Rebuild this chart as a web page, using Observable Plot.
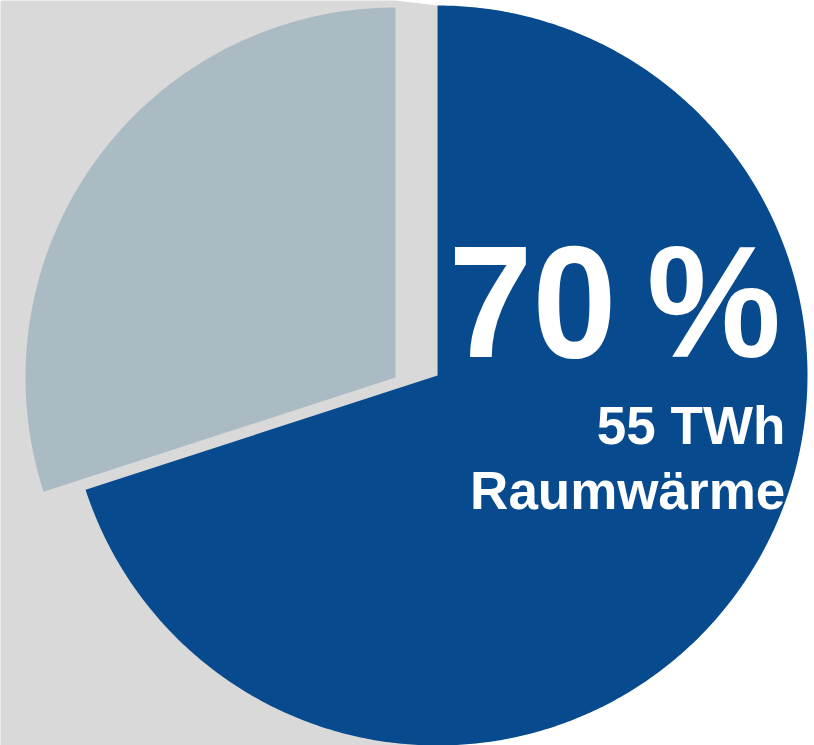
<!DOCTYPE html>
<html><head><meta charset="utf-8">
<script src="https://cdn.jsdelivr.net/npm/d3@7"></script>
<script src="https://cdn.jsdelivr.net/npm/@observablehq/plot@0.6"></script>
<style>
html,body{margin:0;padding:0;background:#fff;}
#chart svg{display:block;}
#chart g.pct-label{transform-box:fill-box;transform-origin:100% 100%;transform:scaleX(0.95);}
</style>
</head><body><div id="chart"></div>
<script>
// ---- data ----
const categories = ["Raumwärme", "Übrige Anwendungen"];
const shares = [70, 30];          // percent
const energyTWh = [55, null];     // TWh (only the highlighted slice is labelled)

// ---- styling / layout constants ----
const COLORS = ["#074B8E", "#ABBBC3"];
const BG_GREY = "#D9D9D9";
const W = 814, H = 745, R_PX = 370;
const X_DOMAIN = [-437 / R_PX, (W - 437) / R_PX];
const Y_DOMAIN = [-(H - 375) / R_PX, 375 / R_PX];
const EXPLODE = [[0, 0], [-42 / R_PX, -2 / R_PX]]; // slice offsets in radius units

// ---- build pie polygons from the data ----
const arcs = d3.pie().sort(null)(shares);
const rows = [];
arcs.forEach((a, i) => {
  const [ox, oy] = EXPLODE[i];
  const pts = [[ox, oy]];
  const n = Math.max(2, Math.ceil((a.endAngle - a.startAngle) / (Math.PI / 360)));
  for (let k = 0; k <= n; k++) {
    const t = a.startAngle + (a.endAngle - a.startAngle) * k / n;
    pts.push([ox + Math.sin(t), oy + Math.cos(t)]);
  }
  pts.push([ox, oy]);
  pts.forEach(([x, y], k) => rows.push({category: categories[i], order: k, x, y}));
});

// background panel (grey on the left, white on the right)
const bg = [
  {x: X_DOMAIN[0], y: Y_DOMAIN[1]},
  {x: EXPLODE[1][0], y: Y_DOMAIN[1]},
  {x: 0, y: 1},
  {x: 0, y: Y_DOMAIN[0]},
  {x: X_DOMAIN[0], y: Y_DOMAIN[0]}
];

const font = "'Liberation Sans', Arial, Helvetica, sans-serif";

const chart = Plot.plot({
  width: W,
  height: H,
  margin: 0,
  style: {fontFamily: font, background: "#fff", overflow: "visible"},
  x: {domain: X_DOMAIN, axis: null},
  y: {domain: Y_DOMAIN, axis: null},
  color: {domain: categories, range: COLORS},
  marks: [
    Plot.line(bg, {x: "x", y: "y", fill: BG_GREY, stroke: "none"}),
    Plot.line(rows, {x: "x", y: "y", z: "category", fill: "category", stroke: "none"}),
    Plot.text([`${shares[0]}\u2009%`], {
      x: 0.930, y: 18 / R_PX, text: d => d,
      textAnchor: "end", lineAnchor: "bottom", className: "pct-label",
      fill: "white", fontWeight: "bold", fontSize: 159
    }),
    Plot.text([`${energyTWh[0]} TWh`], {
      x: 0.94, y: -68 / R_PX, text: d => d,
      textAnchor: "end", lineAnchor: "bottom",
      fill: "white", fontWeight: "bold", fontSize: 53
    }),
    Plot.text([categories[0]], {
      x: 0.94, y: -133 / R_PX, text: d => d,
      textAnchor: "end", lineAnchor: "bottom",
      fill: "white", fontWeight: "bold", fontSize: 53
    })
  ]
});
document.getElementById("chart").appendChild(chart);
</script>
</body></html>
